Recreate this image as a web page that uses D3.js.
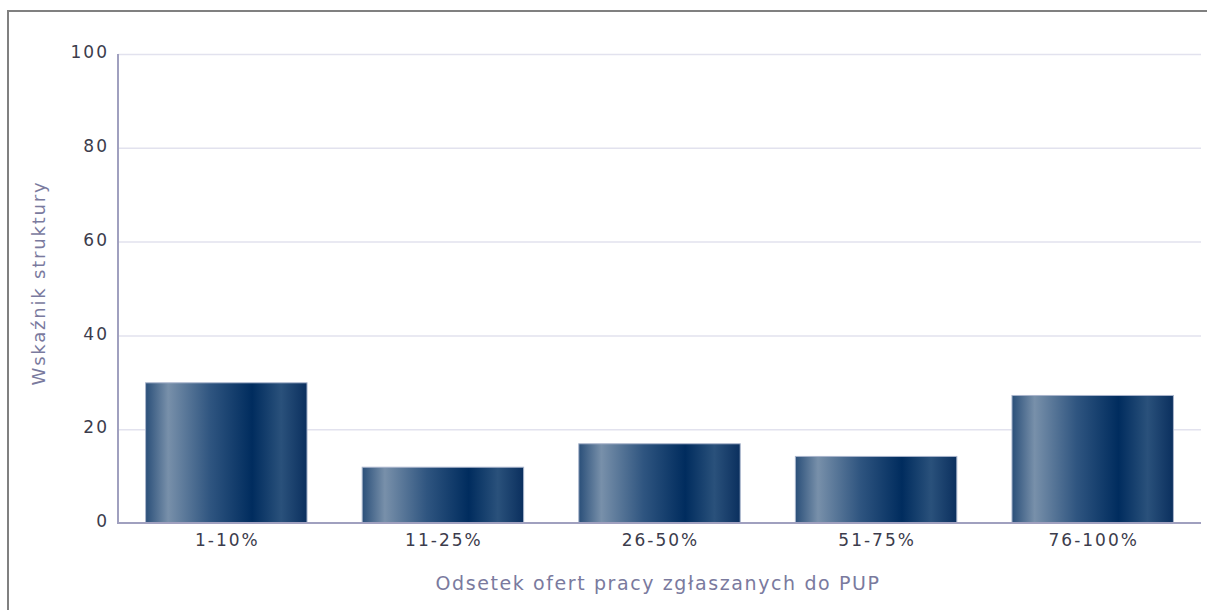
<!DOCTYPE html>
<html><head><meta charset="utf-8">
<script src="https://cdn.jsdelivr.net/npm/d3@7"></script>
<style>body{margin:0;background:#fff}svg{display:block}</style>
</head><body>
<svg id="c" width="1207" height="610"></svg>
<script>
const categories = ["1-10%", "11-25%", "26-50%", "51-75%", "76-100%"];
const values = [30, 12, 17, 14.3, 27.3];
const yTicks = [0, 20, 40, 60, 80, 100];
const yTitle = "Wskaźnik struktury";
const xTitle = "Odsetek ofert pracy zgłaszanych do PUP";

const svg = d3.select("#c");
const m = {left:118, top:54, right:1201, bottom:523};
const x = d3.scaleBand().domain(categories).range([m.left, m.right]).paddingInner(0.25).paddingOuter(0.125);
const y = d3.scaleLinear().domain([0,100]).range([m.bottom, m.top]);

// frame
svg.append("path").attr("d","M8,610 L8,11 L1207,11").attr("fill","none").attr("stroke","#808080").attr("stroke-width",2);

const defs = svg.append("defs");
const g = defs.append("linearGradient").attr("id","bg").attr("x1","0").attr("x2","1").attr("y1","0").attr("y2","0");
[[0,"#2a4f79"],[0.14,"#7890aa"],[0.4,"#2f5580"],[0.66,"#002c5e"],[0.84,"#2a517b"],[1,"#0a2f5e"]]
  .forEach(([o,c])=>g.append("stop").attr("offset",o).attr("stop-color",c));

// grid
svg.append("g").selectAll("line").data(yTicks.filter(d=>d>0)).join("line")
  .attr("x1",m.left).attr("x2",m.right).attr("y1",d=>y(d)+0.5).attr("y2",d=>y(d)+0.5)
  .attr("stroke","#e2e2ee").attr("stroke-width",1.5);

// bars
svg.append("g").selectAll("rect").data(values).join("rect")
  .attr("x",(d,i)=>x(categories[i])+0.5).attr("width",x.bandwidth()-1)
  .attr("y",d=>y(d)+0.5).attr("height",d=>y(0)-y(d)-0.5)
  .attr("fill","url(#bg)").attr("stroke","#a9b5cc").attr("stroke-width",1);

const tickStyle = sel => sel.attr("font-family","DejaVu Sans").attr("font-size",17)
  .attr("letter-spacing","2px").attr("fill","#3c3c4c");

// y axis
const ya = svg.append("g").attr("transform",`translate(${m.left},0)`)
  .call(d3.axisLeft(y).tickValues(yTicks).tickSize(0).tickPadding(9));
ya.select(".domain").attr("stroke","#a0a0bf").attr("stroke-width",2).attr("d",`M0,${m.top}V${m.bottom}`);
ya.selectAll("text").call(tickStyle).attr("dy","0.22em");

// x axis
const xa = svg.append("g").attr("transform",`translate(0,${m.bottom})`)
  .call(d3.axisBottom(x).tickSize(0).tickPadding(11));
xa.select(".domain").attr("stroke","#a0a0bf").attr("stroke-width",2).attr("d",`M${m.left-1},0H${m.right}`);
xa.selectAll("text").call(tickStyle).attr("dx","1px");

svg.append("text").attr("x",658).attr("y",590).attr("text-anchor","middle")
  .attr("font-family","DejaVu Sans").attr("font-size",19).attr("letter-spacing","1.6px")
  .attr("fill","#7a7a9e").text(xTitle);
svg.append("text").attr("transform",`translate(45,283) rotate(-90)`).attr("text-anchor","middle")
  .attr("font-family","DejaVu Sans").attr("font-size",18).attr("letter-spacing","1.8px")
  .attr("fill","#7a7a9e").text(yTitle);
</script>
</body></html>
